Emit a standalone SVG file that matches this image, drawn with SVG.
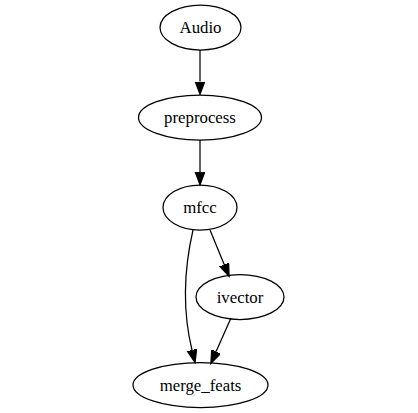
<svg xmlns="http://www.w3.org/2000/svg" width="418" height="413" viewBox="0 0 418 413">
<style>
.node ellipse{fill:none;stroke:#000;stroke-width:1.25}
.node text{font-family:"Liberation Serif","Times New Roman",serif;font-size:16.8px;text-anchor:middle;fill:#000}
.edge path{fill:none;stroke:#000;stroke-width:1.25}
</style>
<defs>
<marker id="arr" markerUnits="userSpaceOnUse" markerWidth="15" markerHeight="12" refX="0" refY="5" orient="auto">
<path d="M0,0.2 L12.8,5 L0,9.8 z" fill="#000" stroke="#000" stroke-width="1.25"/>
</marker>
</defs>
<rect width="418" height="413" fill="#fff"/>
<g id="edges">
<g class="edge" id="e_audio_preprocess"><path d="M200,50 L200,81.5" marker-end="url(#arr)"/></g>
<g class="edge" id="e_preprocess_mfcc"><path d="M200,140 L200,172" marker-end="url(#arr)"/></g>
<g class="edge" id="e_mfcc_merge"><path d="M193,230 C185,265 181,305 192,350" marker-end="url(#arr)"/></g>
<g class="edge" id="e_mfcc_ivector"><path d="M210,230 L224.2,264.5" marker-end="url(#arr)"/></g>
<g class="edge" id="e_ivector_merge"><path d="M231,318 L216.1,351.6" marker-end="url(#arr)"/></g>
</g>
<g class="node" id="Audio"><ellipse cx="200.5" cy="27.5" rx="40.5" ry="22.5"/><text x="200.5" y="33">Audio</text></g>
<g class="node" id="preprocess"><ellipse cx="200" cy="117.5" rx="61.5" ry="22.5"/><text x="200" y="123">preprocess</text></g>
<g class="node" id="mfcc"><ellipse cx="200" cy="207.5" rx="37" ry="22.5"/><text x="200" y="213">mfcc</text></g>
<g class="node" id="ivector"><ellipse cx="240" cy="297" rx="44" ry="22.5"/><text x="240" y="302.5">ivector</text></g>
<g class="node" id="merge_feats"><ellipse cx="200.5" cy="385" rx="67.5" ry="22.5"/><text x="200.5" y="390.5">merge_feats</text></g>
</svg>
